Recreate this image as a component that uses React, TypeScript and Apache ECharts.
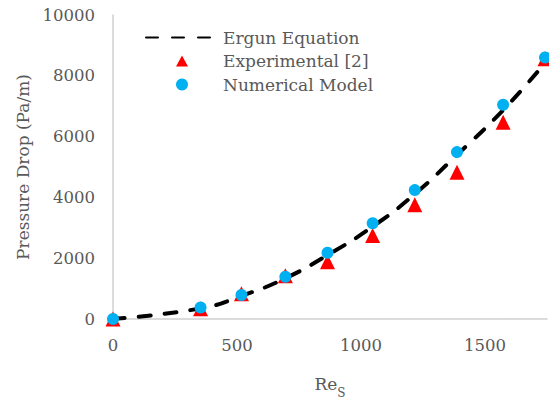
import React, { useEffect, useRef } from "react";
import * as echarts from "echarts";

const reValues = [0, 353, 518, 695, 865, 1047, 1217, 1387, 1573, 1742];
const ergunX = [0, 353, 518, 695, 865, 1047, 1217, 1387, 1573, 1750];
const ergunY = [0, 350, 760, 1340, 2100, 3040, 4110, 5400, 6870, 8500];
const experimental = [0, 340, 830, 1420, 1880, 2750, 3760, 4830, 6470, 8560];
const numerical = [0, 380, 790, 1390, 2180, 3150, 4240, 5490, 7050, 8600];
const xTicks = { min: 0, max: 1750, interval: 500 };
const yTicks = { min: 0, max: 10000, interval: 2000 };

const FONT = "DejaVu Serif";
const GRAY = "#595959";
const TRI = "path://M0 0M72 12M30 11.5L36 0.5L42 11.5Z";

export default function App() {
  const ref = useRef<HTMLDivElement>(null);
  useEffect(() => {
    if (!ref.current) return;
    document.body.style.margin = "0";
    document.body.style.overflow = "hidden";
    const chart = echarts.init(ref.current, null, { renderer: "svg" });
    chart.setOption({
      animation: false,
      backgroundColor: "#ffffff",
      textStyle: { fontFamily: FONT, color: GRAY },
      grid: { left: 113, right: 2, top: 15, height: 309, containLabel: false },
      legend: {
        orient: "vertical",
        left: 140,
        top: 22,
        itemWidth: 72,
        itemHeight: 12,
        itemGap: 2.5,
        textStyle: { fontFamily: FONT, fontSize: 17, color: GRAY, lineHeight: 21 },
        data: [
          { name: "Ergun Equation", itemStyle: { color: "rgba(0,0,0,0)", opacity: 0 } },
          { name: "Experimental [2]", icon: TRI },
          { name: "Numerical Model", icon: "circle" },
        ],
      },
      xAxis: {
        type: "value",
        min: xTicks.min,
        max: xTicks.max,
        interval: xTicks.interval,
        splitLine: { show: false },
        axisTick: { show: false },
        axisLine: { show: true, lineStyle: { color: "#d0d0d0", width: 1.5 } },
        axisLabel: {
          fontFamily: FONT,
          fontSize: 16.5,
          color: GRAY,
          margin: 18,
          showMaxLabel: false,
          formatter: (v: number) => String(v),
        },
        name: "{a|Re}{b|S}",
        nameLocation: "middle",
        nameGap: 56,
        nameTextStyle: {
          rich: {
            a: { fontFamily: FONT, fontSize: 17, color: GRAY },
            b: { fontFamily: FONT, fontSize: 12, color: GRAY, verticalAlign: "bottom", padding: [0, 0, -7, 0] },
          },
        },
      },
      yAxis: {
        type: "value",
        min: yTicks.min,
        max: yTicks.max,
        interval: yTicks.interval,
        splitLine: { show: false },
        axisTick: { show: false },
        axisLine: { show: true, lineStyle: { color: "#d0d0d0", width: 1.5 } },
        axisLabel: {
          fontFamily: FONT,
          fontSize: 16.5,
          color: GRAY,
          margin: 18,
          formatter: (v: number) => String(v),
        },
        name: "Pressure Drop (Pa/m)",
        nameLocation: "middle",
        nameGap: 80,
        nameTextStyle: { fontFamily: FONT, fontSize: 17, color: GRAY },
      },
      series: [
        {
          name: "Ergun Equation",
          type: "line",
          smooth: true,
          symbol: "none",
          data: ergunX.map((x, i) => [x, ergunY[i]]),
          lineStyle: { color: "#000000", width: 4, type: [12, 14], cap: "round" },
          itemStyle: { color: "#000000" },
          z: 2,
        },
        {
          name: "Experimental [2]",
          type: "scatter",
          symbol: "triangle",
          symbolSize: 15,
          data: reValues.map((x, i) => [x, experimental[i]]),
          itemStyle: { color: "#ff0000", opacity: 1 },
          z: 3,
        },
        {
          name: "Numerical Model",
          type: "scatter",
          symbol: "circle",
          symbolSize: 12,
          data: reValues.map((x, i) => [x, numerical[i]]),
          itemStyle: { color: "#00b0f0", opacity: 1 },
          z: 4,
        },
      ],
    });
    return () => chart.dispose();
  }, []);
  return <div ref={ref} style={{ width: 549, height: 404 }} />;
}
